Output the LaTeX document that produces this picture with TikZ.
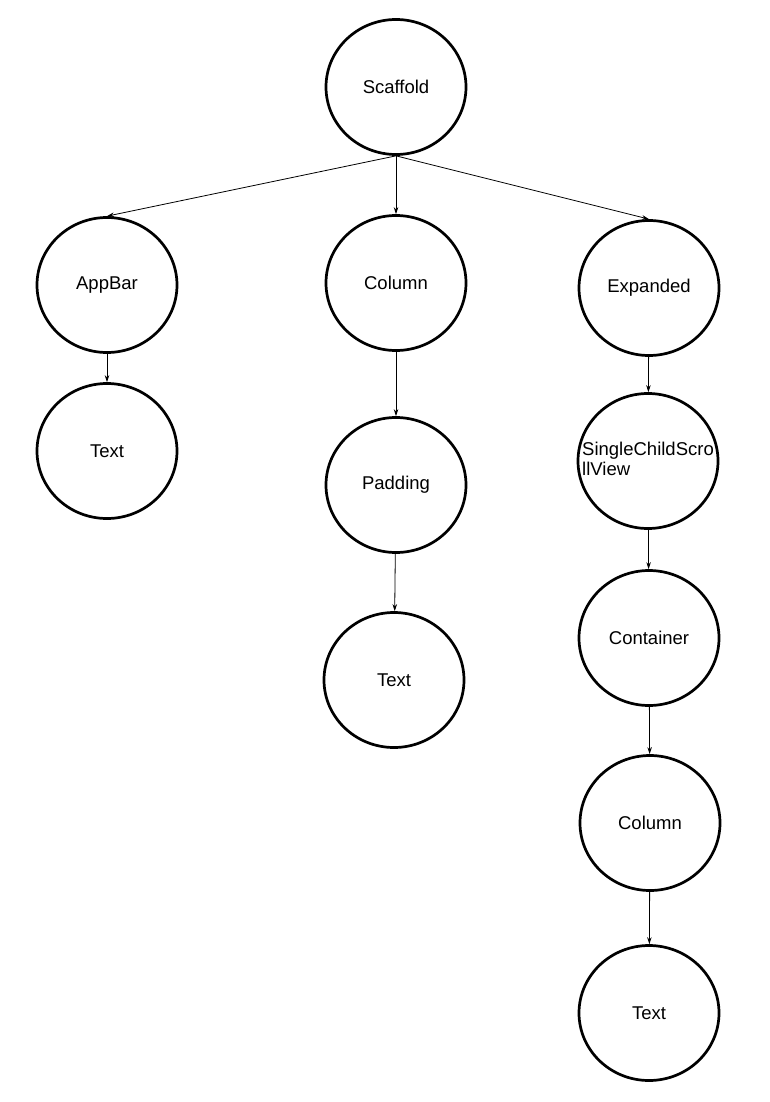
\documentclass[tikz,border=0pt]{standalone}
\usepackage{fontspec}
\setmainfont{Liberation Sans}
\usetikzlibrary{shapes.geometric,arrows.meta}
\begin{document}
\begin{tikzpicture}[x=1pt,y=-1pt,
  widget/.style={ellipse,draw=black,line width=2.7pt,minimum width=140pt,minimum height=135pt,inner sep=0pt,font=\fontsize{18.5}{22}\selectfont},
  edge/.style={draw=black,line width=0.8pt,-{Stealth[length=7pt,width=4.5pt]}}]
\fill[white] (0,0) rectangle (770,1102);
\useasboundingbox (0,0) rectangle (770,1102);
% root
\node[widget] (scaffold) at (396,87) {Scaffold};
% left branch
\node[widget] (appbar) at (107,285) {AppBar};
\node[widget] (textA) at (107,451) {Text};
% middle branch
\node[widget] (columnA) at (396,283) {Column};
\node[widget] (padding) at (396,485) {Padding};
\node[widget] (textB) at (394,680) {Text};
% right branch
\node[widget] (expanded) at (649,288) {Expanded};
\node[widget] (scroll) at (648,461) {\makebox[0pt]{\begin{tabular}{@{}l@{}}SingleChildScro\\[-2pt]llView\end{tabular}}};
\node[widget] (container) at (649,638) {Container};
\node[widget] (columnB) at (650,823) {Column};
\node[widget] (textC) at (649,1013) {Text};
% connectors
\draw[edge] (scaffold.south) -- (appbar.north);
\draw[edge] (scaffold.south) -- (columnA.north);
\draw[edge] (scaffold.south) -- (expanded.north);
\draw[edge] (appbar) -- (textA);
\draw[edge] (columnA) -- (padding);
\draw[edge] (padding) -- (textB);
\draw[edge] (expanded) -- (scroll);
\draw[edge] (scroll) -- (container);
\draw[edge] (container) -- (columnB);
\draw[edge] (columnB) -- (textC);
\end{tikzpicture}
\end{document}
